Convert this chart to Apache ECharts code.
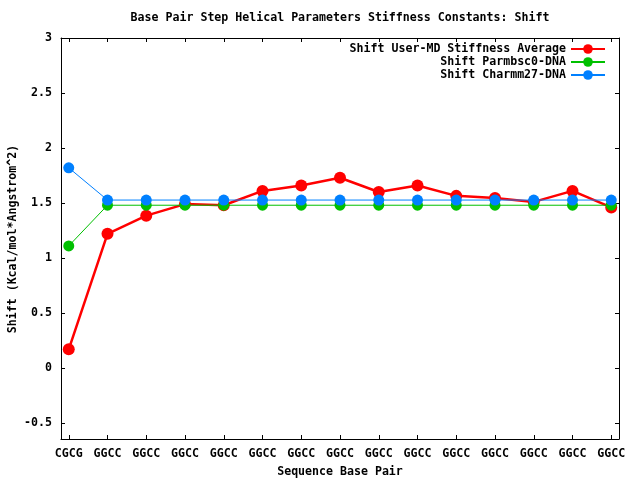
<!DOCTYPE html>
<html>
<head>
<meta charset="utf-8">
<script src="https://cdn.jsdelivr.net/npm/echarts@6/dist/echarts.min.js"></script>
<style>html,body{margin:0;padding:0;background:#fff}#c{width:640px;height:480px}</style>
</head>
<body>
<div id="c"></div>
<script>
const categories = ['CGCG','GGCC','GGCC','GGCC','GGCC','GGCC','GGCC','GGCC','GGCC','GGCC','GGCC','GGCC','GGCC','GGCC','GGCC'];
const userMD   = [0.17, 1.22, 1.385, 1.49, 1.48, 1.61, 1.66, 1.73, 1.60, 1.66, 1.565, 1.545, 1.51, 1.61, 1.46];
const parmbsc0 = [1.11, 1.48, 1.48, 1.48, 1.48, 1.48, 1.48, 1.48, 1.48, 1.48, 1.48, 1.48, 1.48, 1.48, 1.48];
const charmm27 = [1.82, 1.527, 1.527, 1.527, 1.527, 1.527, 1.527, 1.527, 1.527, 1.527, 1.527, 1.527, 1.527, 1.527, 1.527];
const yTicks = [-0.5, 0, 0.5, 1, 1.5, 2, 2.5, 3];
const seriesNames = ['Shift User-MD Stiffness Average', 'Shift Parmbsc0-DNA', 'Shift Charmm27-DNA'];
const titleText = 'Base Pair Step Helical Parameters Stiffness Constants: Shift';
const xName = 'Sequence Base Pair';
const yName = 'Shift (Kcal/mol*Angstrom^2)';

const xIdx = categories.map((_, i) => i);
const toPts = arr => arr.map((v, i) => [i, v]);
const FONT = '"DejaVu Sans Mono", "Liberation Mono", monospace';
const FS = 11.6;
const txt = {fontFamily: FONT, fontSize: FS, fontWeight: 'bold', color: '#000'};

const chart = echarts.init(document.getElementById('c'), null, {renderer: 'canvas'});
const baseX = {
  type: 'value', min: -0.2, max: 14.2,
  axisLine: {show: true, onZero: false, lineStyle: {color: '#000', width: 1}},
  axisTick: {show: true, inside: true, length: 4, lineStyle: {color: '#000'}, customValues: xIdx},
  splitLine: {show: false}
};
const baseY = {
  type: 'value', min: -0.645, max: 3,
  axisLine: {show: true, onZero: false, lineStyle: {color: '#000', width: 1}},
  axisTick: {show: true, inside: true, length: 4, lineStyle: {color: '#000'}, customValues: yTicks},
  splitLine: {show: false}
};
const colors = ['#ff0000', '#00c000', '#0080ff'];
const legends = seriesNames.map((n, i) => ({
  data: [n], orient: 'vertical', align: 'right', right: 34, top: 43 + 13 * i,
  padding: 0, itemWidth: 34, itemHeight: 12, selectedMode: false,
  textStyle: Object.assign({}, txt)
}));
chart.setOption({
  animation: false,
  backgroundColor: '#fff',
  grid: {left: 61, right: 21, top: 38, bottom: 41, containLabel: false},
  legend: legends,
  xAxis: [
    Object.assign({}, baseX, {position: 'bottom',
      axisLabel: Object.assign({}, txt, {show: true, margin: 9, customValues: xIdx,
        formatter: v => categories[Math.round(v)] || ''})}),
    Object.assign({}, baseX, {position: 'top', axisLabel: {show: false}})
  ],
  yAxis: [
    Object.assign({}, baseY, {position: 'left',
      axisLabel: Object.assign({}, txt, {show: true, margin: 9, customValues: yTicks,
        formatter: v => String(v)})}),
    Object.assign({}, baseY, {position: 'right', axisLabel: {show: false}})
  ],
  series: [
    {name: seriesNames[0], type: 'line', data: toPts(userMD), color: colors[0],
     symbol: 'circle', symbolSize: 12, lineStyle: {width: 2.5}, z: 2},
    {name: seriesNames[1], type: 'line', data: toPts(parmbsc0), color: colors[1],
     symbol: 'circle', symbolSize: 11, lineStyle: {width: 1}, z: 3},
    {name: seriesNames[2], type: 'line', data: toPts(charmm27), color: colors[2],
     symbol: 'circle', symbolSize: 11, lineStyle: {width: 1}, z: 4}
  ],
  graphic: [
    {type: 'text', x: 340, y: 18, style: {text: titleText, align: 'center', verticalAlign: 'middle', fill: '#000', font: 'bold ' + FS + 'px ' + FONT}},
    {type: 'text', x: 340, y: 472, style: {text: xName, align: 'center', verticalAlign: 'middle', fill: '#000', font: 'bold ' + FS + 'px ' + FONT}},
    {type: 'text', x: 13, y: 239, rotation: Math.PI / 2, style: {text: yName, align: 'center', verticalAlign: 'middle', fill: '#000', font: 'bold ' + FS + 'px ' + FONT}}
  ]
});
</script>
</body>
</html>
